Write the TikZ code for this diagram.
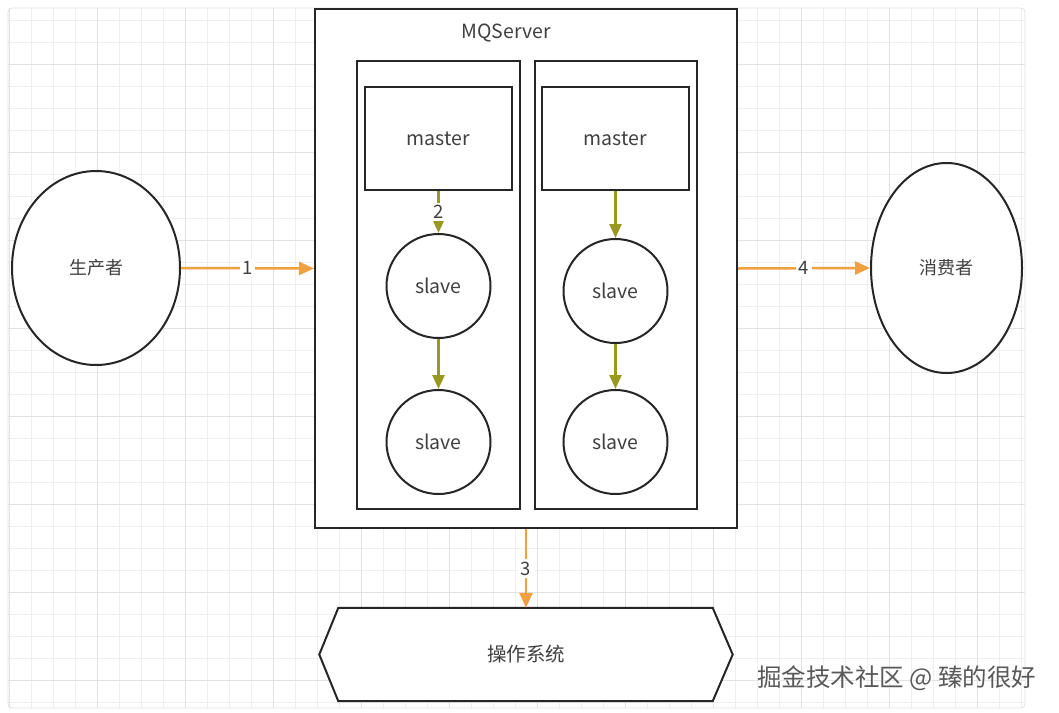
\documentclass[tikz,border=0pt]{standalone}
\usepackage{fontspec}
\setmainfont{Noto Sans CJK SC}
\usetikzlibrary{arrows.meta,shapes.geometric}
\definecolor{gridminor}{HTML}{EFEFEF}
\definecolor{gridmajor}{HTML}{E2E2E2}
\definecolor{olive}{HTML}{999922}
\definecolor{orangeln}{HTML}{F0A040}
\definecolor{txt}{HTML}{404040}
\tikzset{
  box/.style={draw=black!85, line width=2pt, fill=white, inner sep=0pt},
  lbl/.style={text=txt, font=\fontsize{19.5}{22}\selectfont},
  circ/.style={circle, draw=black!85, line width=2pt, fill=white, minimum size=104pt, inner sep=0pt, text=txt, font=\fontsize{19.5}{22}\selectfont},
  ell/.style={ellipse, draw=black!85, line width=2pt, fill=white, inner sep=0pt, text=txt, font=\fontsize{18}{20}\selectfont},
  oarrow/.style={draw=orangeln, line width=2.5pt, -{Triangle[width=13pt,length=15pt]}},
  garrow/.style={draw=olive, line width=2.5pt, -{Triangle[width=12pt,length=14pt]}},
  num/.style={fill=white, text=txt, inner sep=2.5pt, font=\fontsize{18.5}{20}\selectfont},
}
\begin{document}
\begin{tikzpicture}[x=1pt,y=-1pt]
\useasboundingbox (0,0) rectangle (1059,712);
\fill[white] (0,0) rectangle (1059,712);
% grid
\foreach \i in {0,...,46} {
  \pgfmathsetmacro{\xx}{9+22*\i}
  \draw[gridminor, line width=0.8pt] (\xx,8) -- (\xx,708);
}
\foreach \j in {0,...,31} {
  \pgfmathsetmacro{\yy}{20+22*\j}
  \draw[gridminor, line width=0.8pt] (8,\yy) -- (1025,\yy);
}
\foreach \i in {0,...,11} {
  \pgfmathsetmacro{\xx}{9+88*\i}
  \draw[gridmajor, line width=0.8pt] (\xx,8) -- (\xx,708);
}
\foreach \j in {0,...,7} {
  \pgfmathsetmacro{\yy}{64+88*\j}
  \draw[gridmajor, line width=0.8pt] (8,\yy) -- (1025,\yy);
}
\draw[gridmajor, line width=0.8pt, rounded corners=4pt] (8,8) rectangle (1025,708);

% MQServer outer box
\node[box, minimum width=422pt, minimum height=519pt] (mq) at (526,268.5) {};
\node[lbl] (mqlbl) at (506,33) {MQServer};
% inner boxes
\node[box, minimum width=163pt, minimum height=448pt] (left) at (438.5,285) {};
\node[box, minimum width=162pt, minimum height=448pt] (right) at (616,285) {};
% masters
\node[box, lbl, minimum width=147pt, minimum height=103pt] (m1) at (438.5,138.5) {master};
\node[box, lbl, minimum width=147pt, minimum height=103pt] (m2) at (615.5,138.5) {master};
% slaves
\node[circ] (s1) at (438.5,286) {slave};
\node[circ] (s2) at (438.5,442) {slave};
\node[circ] (s3) at (615.5,291) {slave};
\node[circ] (s4) at (615.5,442) {slave};
% producer / consumer
\node[ell, minimum width=168pt, minimum height=194pt] (prod) at (96,268) {生产者};
\node[ell, minimum width=151pt, minimum height=210pt] (cons) at (946.5,268) {消费者};
% operating system hexagon
\coordinate (osc) at (526,654.5);
\node[minimum width=413pt, minimum height=93pt, inner sep=0pt] (os) at (osc) {};
\draw[draw=black!85, line width=2pt, fill=white]
  ([xshift=19pt]os.north west) -- ([xshift=-20pt]os.north east) -- (os.east)
  -- ([xshift=-20pt]os.south east) -- ([xshift=19pt]os.south west) -- (os.west) -- cycle;
\node[lbl] (oslbl) at (os.center) {操作系统};

% arrows
\draw[oarrow] (prod.east) -- node[num] {1} (mq.west);
\draw[oarrow] (mq.east) -- node[num] {4} (cons.west);
\draw[oarrow] (mq.south) -- node[num] {3} (os.north);
\draw[garrow] (m1.south) -- node[num] {2} (s1.north);
\draw[garrow] (m2.south) -- (s3.north);
\draw[garrow] (s1.south) -- (s2.north);
\draw[garrow] (s3.south) -- (s4.north);

% watermark
\node[text=white, font=\fontsize{24.5}{26}\selectfont, anchor=east] (wm0) at (1041,679) {掘金技术社区 @ 臻的很好};
\node[text=black!65, font=\fontsize{24.5}{26}\selectfont, anchor=east] (wm) at (1040,678) {掘金技术社区 @ 臻的很好};
\end{tikzpicture}
\end{document}
